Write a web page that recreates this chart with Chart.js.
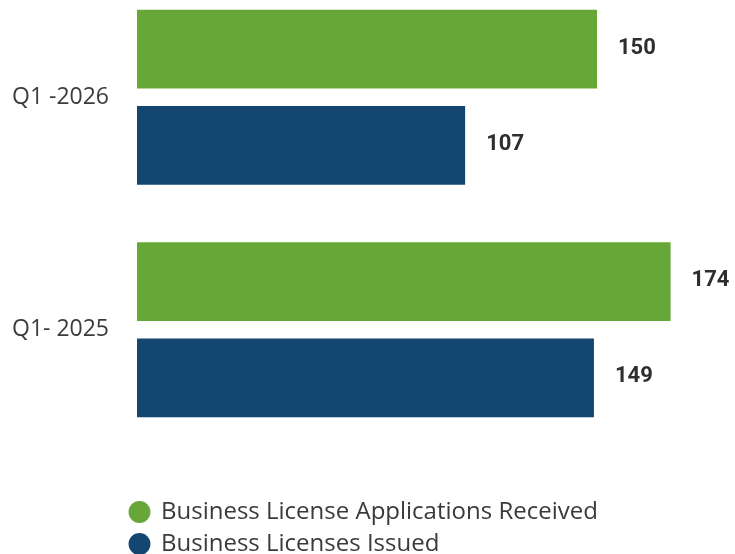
<!doctype html>
<html lang="en">
  <head>
    <meta charset="UTF-8" />
    <title>Business Licenses Q1</title>
    <script src="https://cdn.jsdelivr.net/npm/chart.js"></script>
    <style>
      body {
        margin: 0;
        background: #ffffff;
        overflow: hidden;
      }

      /* the top bar sits a little above the category band, so pull the canvas up */
      .chart-box {
        width: 735px;
        height: 605px;
        margin-top: -39px;
      }
    </style>
  </head>
  <body>
    <div class="chart-box">
      <canvas id="licenseChart"></canvas>
    </div>

    <script>
      const quarters = ["Q1 -2026", "Q1- 2025"];
      const applicationsReceived = [150, 174];
      const licensesIssued = [107, 149];
      const seriesNames = ["Business License Applications Received", "Business Licenses Issued"];

      // write the number just past the end of each bar
      const valueLabels = {
        id: "valueLabels",
        afterDatasetsDraw(chart) {
          const ctx = chart.ctx;
          ctx.save();
          ctx.font = "bold 22px Roboto, sans-serif";
          ctx.fillStyle = "#2e2e2e";
          ctx.textAlign = "left";
          ctx.textBaseline = "middle";
          chart.data.datasets.forEach((ds, i) => {
            chart.getDatasetMeta(i).data.forEach((bar, j) => {
              ctx.fillText(ds.data[j], bar.x + 21, bar.y - 1);
            });
          });
          ctx.restore();
        }
      };

      // legend rows start under the bars, not at the canvas edge
      const legendIndent = {
        id: "legendIndent",
        afterLayout(chart) {
          chart.legend.left = 122;
        }
      };

      const ctx = document.getElementById("licenseChart").getContext("2d");
      const licenseChart = new Chart(ctx, {
        type: "bar",
        data: {
          labels: quarters,
          datasets: [
            {
              label: seriesNames[0],
              data: applicationsReceived,
              backgroundColor: "#66a737"
            },
            {
              label: seriesNames[1],
              data: licensesIssued,
              backgroundColor: "#134771"
            }
          ]
        },
        options: {
          indexAxis: "y",
          responsive: true,
          maintainAspectRatio: false,
          animation: false,
          categoryPercentage: 0.826,
          barPercentage: 0.82,
          layout: {
            padding: { top: 20, left: 12, right: 0, bottom: 0 }
          },
          scales: {
            x: {
              min: 0,
              max: 195,
              grid: { display: false },
              border: { display: false },
              ticks: { display: false },
              afterFit(scale) {
                scale.height = 46;
              }
            },
            y: {
              grid: { display: false, drawTicks: false },
              border: { display: false },
              ticks: {
                color: "#3c3c3c",
                padding: 0,
                crossAlign: "far",
                font: { family: "Open Sans", size: 23 }
              },
              afterFit(scale) {
                scale.width = 125;
              }
            }
          },
          plugins: {
            tooltip: { enabled: false },
            legend: {
              position: "bottom",
              align: "start",
              labels: {
                usePointStyle: true,
                pointStyle: "circle",
                boxWidth: 19,
                boxHeight: 15.5,
                padding: 8,
                color: "#3a3a3a",
                font: { family: "Open Sans", size: 24 }
              }
            }
          }
        },
        plugins: [valueLabels, legendIndent]
      });
    </script>
  </body>
</html>
